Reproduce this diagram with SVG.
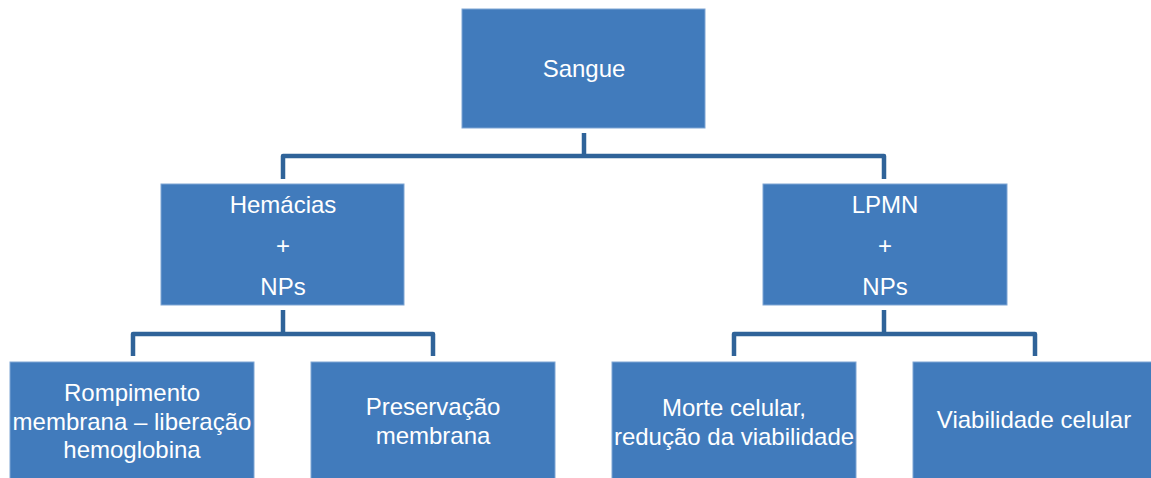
<svg xmlns="http://www.w3.org/2000/svg" width="1151" height="478" viewBox="0 0 1151 478">
<style>
.box{fill:#417BBC;stroke:#7FA6D4;stroke-width:1}
.t{font-family:"Liberation Sans",Arial,sans-serif;font-size:24px;fill:#FFFFFF;text-anchor:middle}
.c{fill:none;stroke:#2F6399;stroke-width:4.5;stroke-linejoin:round}
</style>
<rect width="1151" height="478" fill="#FFFFFF"/>
<g id="connectors">
<path class="c" d="M584 133 V156"/>
<path class="c" d="M283 179 V156 H884 V179"/>
<path class="c" d="M283 310 V334"/>
<path class="c" d="M133 356 V334 H433 V356"/>
<path class="c" d="M884 310 V334"/>
<path class="c" d="M734 356 V334 H1035 V356"/>
</g>
<g id="sangue">
<rect class="box" x="462" y="9" width="243" height="119"/>
<text class="t" x="584" y="77">Sangue</text>
</g>
<g id="hemacias">
<rect class="box" x="161" y="184" width="243" height="121"/>
<text class="t" x="283" y="213">Hemácias</text>
<text class="t" x="283" y="254">+</text>
<text class="t" x="283" y="295">NPs</text>
</g>
<g id="lpmn">
<rect class="box" x="763" y="184" width="244" height="121"/>
<text class="t" x="885" y="213">LPMN</text>
<text class="t" x="885" y="254">+</text>
<text class="t" x="885" y="295">NPs</text>
</g>
<g id="rompimento">
<rect class="box" x="10" y="362" width="244" height="118"/>
<text class="t" x="132" y="401">Rompimento</text>
<text class="t" x="132" y="430">membrana – liberação</text>
<text class="t" x="132" y="458">hemoglobina</text>
</g>
<g id="preservacao">
<rect class="box" x="311" y="362" width="244" height="118"/>
<text class="t" x="433" y="415">Preservação</text>
<text class="t" x="433" y="444">membrana</text>
</g>
<g id="morte">
<rect class="box" x="612" y="362" width="244" height="118"/>
<text class="t" x="734" y="416">Morte celular,</text>
<text class="t" x="734" y="445">redução da viabilidade</text>
</g>
<g id="viabilidade">
<rect class="box" x="913" y="362" width="244" height="118"/>
<text class="t" x="1034" y="428">Viabilidade celular</text>
</g>
</svg>
